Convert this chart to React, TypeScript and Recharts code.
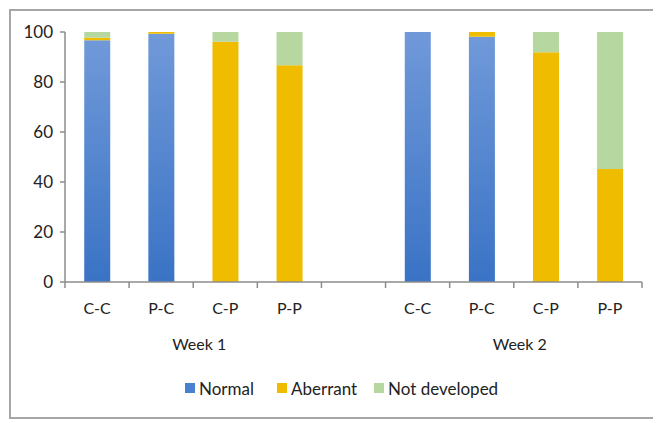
import React from 'react';
import { BarChart, Bar, XAxis, YAxis, Legend } from 'recharts';

const categories = ['C-C', 'P-C', 'C-P', 'P-P', '', 'C-C', 'P-C', 'C-P', 'P-P'];
const weekLabels = ['Week 1', '', '', '', '', 'Week 2', '', '', ''];
const weekGroupSize = 4;
const normal = [96.7, 99.3, 0, 0, null, 100, 98.1, 0, 0];
const aberrant = [1.0, 0.7, 96.1, 86.7, null, 0, 1.9, 91.9, 45.2];
const notDeveloped = [2.3, 0, 3.9, 13.3, null, 0, 0, 8.1, 54.8];
const yTicks = [0, 20, 40, 60, 80, 100];

const seriesNames = ['Normal', 'Aberrant', 'Not developed'];
const legendColors = ['#4a80d0', '#f0bc00', '#b6d7a0'];

const data = categories.map((c, i) => ({
  cat: c,
  normal: normal[i],
  aberrant: aberrant[i],
  notDeveloped: notDeveloped[i],
}));

const FONT = 'Lato, "Open Sans", sans-serif';
const TEXT = '#222222';
const AXIS = '#8c8c8c';

const XTick = (props: any) => {
  const { x, y, payload, index } = props;
  const off = payload && payload.offset ? payload.offset : 32;
  const i = payload && payload.index !== undefined ? payload.index : index;
  const isLast = i === categories.length - 1;
  const week = weekLabels[i];
  return (
    <g>
      <line x1={x - off} y1={y} x2={x - off} y2={y + 6} stroke={AXIS} strokeWidth={1.5} />
      {isLast && <line x1={x + off} y1={y} x2={x + off} y2={y + 6} stroke={AXIS} strokeWidth={1.5} />}
      <text x={x} y={y + 25} textAnchor="middle" dominantBaseline="central" fill={TEXT} fontSize={16} fontFamily={FONT}>
        {payload.value}
      </text>
      {week && (
        <text
          x={x - off + off * 2 * (weekGroupSize / 2)}
          dx={6}
          y={y + 61}
          textAnchor="middle"
          dominantBaseline="central"
          fill={TEXT}
          fontSize={16}
          fontFamily={FONT}
        >
          {week}
        </text>
      )}
    </g>
  );
};

const LegendContent = () => (
  <div style={{ display: 'flex', alignItems: 'center', height: 20, fontFamily: FONT, fontSize: 17, color: TEXT }}>
    {seriesNames.map((n, i) => (
      <div key={n} style={{ display: 'flex', alignItems: 'center', width: i === 0 ? 92 : i === 1 ? 97 : 140 }}>
        <span style={{ display: 'inline-block', width: 10, height: 10, background: legendColors[i], marginRight: 4 }} />
        <span>{n}</span>
      </div>
    ))}
  </div>
);

export default function App() {
  return (
    <div style={{ position: 'relative', width: 660, height: 414 }}>
      <div
        style={{
          position: 'absolute',
          left: 1,
          top: 1,
          width: 700,
          height: 410,
          border: '2px solid #a6a6a6',
          boxSizing: 'border-box',
        }}
      />
      <BarChart
        width={660}
        height={414}
        data={data}
        margin={{ top: 24, right: 26, left: 0, bottom: 24 }}
        barCategoryGap="30%"
        style={{ position: 'absolute', left: 0, top: 0 }}
      >
        <defs>
          <linearGradient id="blueGrad" x1="0" y1="0" x2="0" y2="1">
            <stop offset="0%" stopColor="#7099d9" />
            <stop offset="100%" stopColor="#3a73c5" />
          </linearGradient>
        </defs>
        <XAxis
          dataKey="cat"
          height={96}
          tickSize={0}
          tickMargin={0}
          tickLine={false}
          axisLine={{ stroke: AXIS, strokeWidth: 1.5 }}
          tick={<XTick />}
          interval={0}
        />
        <YAxis
          width={57}
          domain={[0, 100]}
          ticks={yTicks}
          tickSize={5}
          tickMargin={7}
          axisLine={{ stroke: AXIS, strokeWidth: 1.5 }}
          tickLine={{ stroke: AXIS, strokeWidth: 1.5 }}
          tick={{ fill: TEXT, fontSize: 17, fontFamily: FONT }}
        />
        <Legend
          verticalAlign="bottom"
          content={<LegendContent />}
          wrapperStyle={{ left: 177, height: 20 }}
        />
        <Bar dataKey="normal" name="Normal" stackId="a" fill="url(#blueGrad)" isAnimationActive={false} />
        <Bar dataKey="aberrant" name="Aberrant" stackId="a" fill="#f0bc00" isAnimationActive={false} />
        <Bar dataKey="notDeveloped" name="Not developed" stackId="a" fill="#b6d7a0" isAnimationActive={false} />
      </BarChart>
    </div>
  );
}
